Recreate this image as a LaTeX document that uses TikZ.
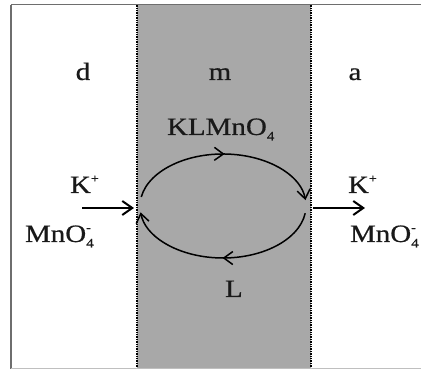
\documentclass[tikz,border=0pt]{standalone}
\usepackage{fontspec}
\setmainfont[FakeStretch=1.16,FakeBold=0.6]{Liberation Serif}
\usetikzlibrary{arrows.meta,decorations.markings}
\newcommand{\supchar}[1]{\raisebox{0.42em}{\fontsize{12}{12}\selectfont #1}}
\newcommand{\supsubchar}[2]{\rlap{\raisebox{0.42em}{\fontsize{12}{12}\selectfont #1}}\raisebox{-0.22em}{\fontsize{13}{13}\selectfont #2}}
\definecolor{mgray}{RGB}{168,168,168}
\definecolor{fgray}{RGB}{110,110,110}
\tikzset{
  lbl/.style={inner sep=0pt, outer sep=0pt, font=\fontsize{25}{25}\selectfont, text=black!90},
  flowarrow/.style={line width=2pt, -{Straight Barb[length=10pt,width=14pt,line width=2pt]}},
  cyclearc/.style={line width=1.5pt, -{Straight Barb[length=9pt,width=13pt,line width=1.5pt]},
    postaction={decorate, decoration={markings,
      mark=at position 0.5 with {\arrow{Straight Barb[length=9pt,width=13pt,line width=1.5pt]}}}}},
  membrane/.style={draw=black, line width=1.4pt, dash pattern=on 1.3pt off 1.1pt}
}
\begin{document}
\begin{tikzpicture}[x=1pt,y=1pt]
\useasboundingbox (0,0) rectangle (421,369);
\fill[white] (0,0) rectangle (421,369);
% membrane region
\fill[mgray] (137,0) rectangle (311,364);
\draw[membrane] (137,0) -- (137,364);
\draw[membrane] (311,0) -- (311,364);
% outer frame
\draw[fgray, line width=2pt] (11,0) -- (11,364);
\draw[fgray, line width=1pt] (11,364) -- (421,364);
\draw[black!25, line width=0.8pt] (11,1) -- (421,1);
% region labels
\node[lbl, anchor=base] (d) at (83,289) {d};
\node[lbl, anchor=base] (m) at (220,289) {m};
\node[lbl, anchor=base] (a) at (355,289) {a};
% complex and carrier
\node[lbl, anchor=base west] (klm) at (167,234) {KLMnO\supsubchar{}{4}};
\node[lbl, anchor=base west] (L) at (225,72) {L};
% ions
\node[lbl, anchor=base west] (kl) at (70,176) {K\supchar{+}};
\node[lbl, anchor=base west] (ml) at (25,127) {MnO\supsubchar{-}{4}};
\node[lbl, anchor=base west] (kr) at (348,176) {K\supchar{+}};
\node[lbl, anchor=base west] (mr) at (350,127) {MnO\supsubchar{-}{4}};
% flow arrows
\coordinate (inS) at (82,161);
\coordinate (inE) at (134,161);
\coordinate (outS) at (313,161);
\coordinate (outE) at (365,161);
\draw[flowarrow] (inS) -- (inE);
\draw[flowarrow] (outS) -- (outE);
% cycle
\coordinate (c) at (223,163);
\draw[cyclearc] (c) ++(170:83 and 52) arc[start angle=170, end angle=6.5, x radius=83pt, y radius=52pt];
\draw[cyclearc] (c) ++(-8:83 and 52) arc[start angle=-8, end angle=-173, x radius=83pt, y radius=52pt];
\end{tikzpicture}
\end{document}
